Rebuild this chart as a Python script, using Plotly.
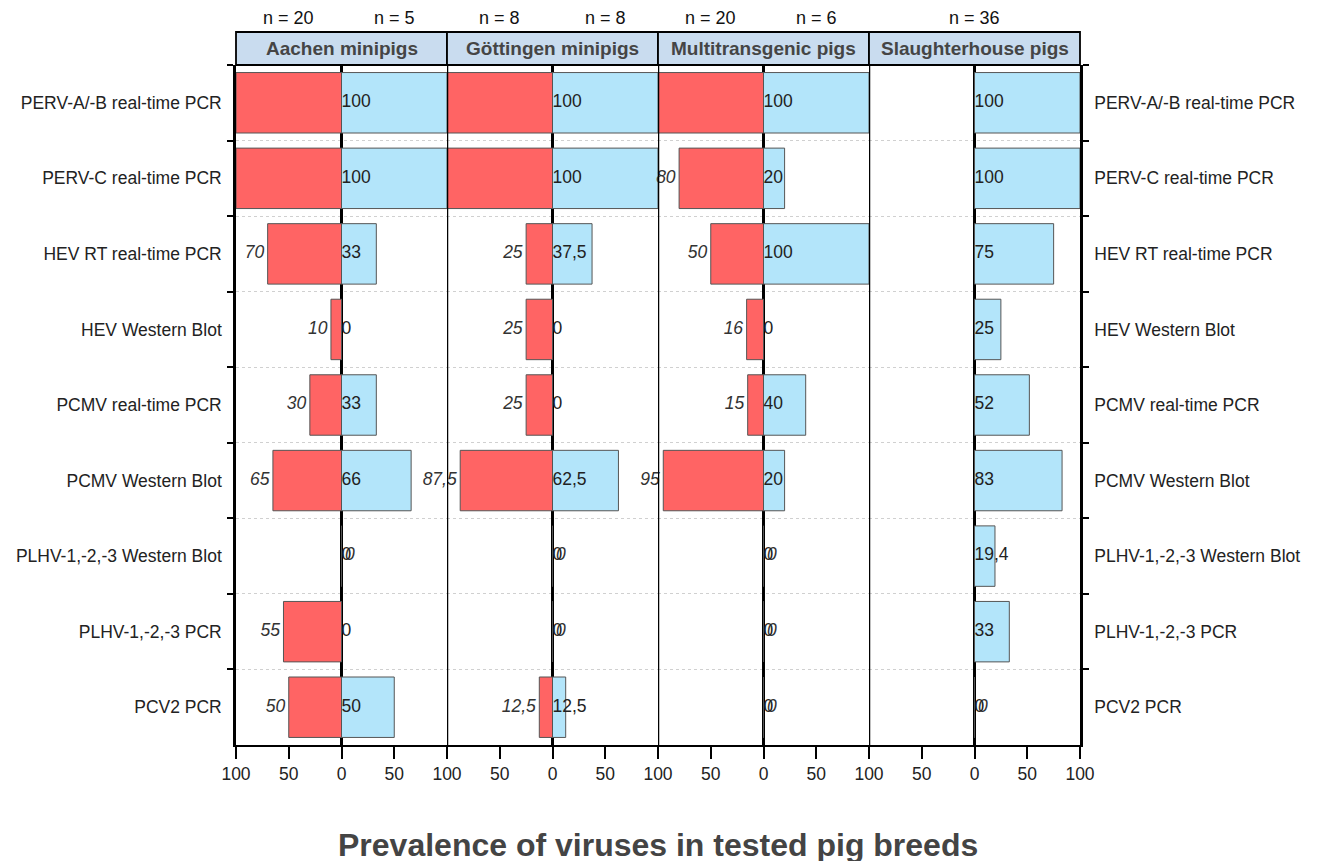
import plotly.graph_objects as go

tests = ["PERV-A/-B real-time PCR", "PERV-C real-time PCR", "HEV RT real-time PCR",
         "HEV Western Blot", "PCMV real-time PCR", "PCMV Western Blot",
         "PLHV-1,-2,-3 Western Blot", "PLHV-1,-2,-3 PCR", "PCV2 PCR"]

breeds = ["Aachen minipigs", "Göttingen minipigs", "Multitransgenic pigs", "Slaughterhouse pigs"]

aachen_left = [100, 100, 70, 10, 30, 65, 0, 55, 50]
aachen_right = [100, 100, 33, 0, 33, 66, 0, 0, 50]
goettingen_left = [100, 100, 25, 25, 25, 87.5, 0, 0, 12.5]
goettingen_right = [100, 100, 37.5, 0, 0, 62.5, 0, 0, 12.5]
multi_left = [100, 80, 50, 16, 15, 95, 0, 0, 0]
multi_right = [100, 20, 100, 0, 40, 20, 0, 0, 0]
slaughter_left = [None, None, None, None, None, None, None, None, 0]
slaughter_right = [100, 100, 75, 25, 52, 83, 19.4, 33, 0]

n_left = ["n = 20", "n = 8", "n = 20", None]
n_right = ["n = 5", "n = 8", "n = 6", None]
n_center = [None, None, None, "n = 36"]

left_data = [aachen_left, goettingen_left, multi_left, slaughter_left]
right_data = [aachen_right, goettingen_right, multi_right, slaughter_right]

tick_vals = [-100, -50, 0, 50, 100]
tick_text = ["100", "50", "0", "50", "100"]

RED = "#FF6464"
BLUE = "#B3E5FA"
EDGE = "#555555"
TXT = "#222222"
FS = 17.5
FONT = "Liberation Sans, Arial"


def fmt(v):
    return f"{v:g}".replace(".", ",")


fig = go.Figure()

for i in range(4):
    xa = "x" if i == 0 else f"x{i+1}"
    ya = "y" if i < 3 else "y2"
    left = left_data[i]
    right = right_data[i]
    lx = [(-v if v is not None else None) for v in left]
    fig.add_trace(go.Bar(
        y=tests, x=lx, orientation="h", xaxis=xa, yaxis=ya,
        marker=dict(color=RED, line=dict(color=EDGE, width=1)),
        width=0.8, hoverinfo="skip", showlegend=False))
    fig.add_trace(go.Bar(
        y=tests, x=right, orientation="h", xaxis=xa, yaxis=ya,
        marker=dict(color=BLUE, line=dict(color=EDGE, width=1)),
        width=0.8, hoverinfo="skip", showlegend=False))
    # left labels (italic)
    ltxt, lpos = [], []
    for v in left:
        if v is None or v >= 100:
            ltxt.append("")
            lpos.append("middle left")
        elif v == 0:
            ltxt.append("\u2009<i>0</i>")
            lpos.append("middle right")
        else:
            ltxt.append(f"<i>{fmt(v)}</i>\u2009")
            lpos.append("middle left")
    fig.add_trace(go.Scatter(
        y=tests, x=[(-v if v is not None else 0) for v in left], mode="text",
        text=ltxt, textposition=lpos, xaxis=xa, yaxis=ya,
        textfont=dict(size=FS, color="#333333", family=FONT),
        cliponaxis=False, hoverinfo="skip", showlegend=False))
    # right labels
    fig.add_trace(go.Scatter(
        y=tests, x=[0] * len(right), mode="text",
        text=[fmt(v) for v in right], textposition="middle right",
        xaxis=xa, yaxis=ya,
        textfont=dict(size=FS, color=TXT, family=FONT),
        cliponaxis=False, hoverinfo="skip", showlegend=False))

layout = dict(
    width=1320, height=861,
    margin=dict(l=228, r=248, t=57, b=124, autoexpand=False),
    paper_bgcolor="white", plot_bgcolor="white",
    barmode="overlay",
    font=dict(family=FONT, color=TXT),
)

for i in range(4):
    key = "xaxis" if i == 0 else f"xaxis{i+1}"
    tv = tick_vals if i == 0 else tick_vals[1:]
    tt = tick_text if i == 0 else tick_text[1:]
    layout[key] = dict(
        domain=[i * 0.25, (i + 1) * 0.25], range=[-100, 100],
        anchor="y" if i < 3 else "y2",
        tickvals=tv, ticktext=tt, ticks="outside", ticklen=12, tickwidth=1.5,
        tickcolor="black", tickfont=dict(size=FS, color=TXT),
        showline=True, linecolor="black", linewidth=2,
        zeroline=True, zerolinecolor="black", zerolinewidth=2.5,
        showgrid=False, fixedrange=True)

common_y = dict(
    type="category", categoryorder="array", categoryarray=tests,
    autorange="reversed", tickson="boundaries", ticks="outside", ticklen=6,
    tickwidth=1.5, tickcolor="black", ticklabelstandoff=8,
    showgrid=True, gridcolor="#d0d0d0", griddash="dot", gridwidth=1,
    showline=True, linecolor="black", linewidth=2.5,
    tickfont=dict(size=FS, color=TXT), domain=[0, 1], fixedrange=True)

layout["yaxis"] = dict(common_y, anchor="x", side="left")
layout["yaxis2"] = dict(common_y, anchor="x4", side="right")

shapes = []
annotations = []
H = 680.0
for i in range(4):
    xd = "x domain" if i == 0 else f"x{i+1} domain"
    xr = "x" if i == 0 else f"x{i+1}"
    shapes.append(dict(type="rect", xref=xd, x0=0, x1=1, yref="paper",
                       y0=1, y1=1 + 33 / H, fillcolor="#C9DCEF",
                       line=dict(color="black", width=1.8), layer="above"))
    annotations.append(dict(xref=xd, x=0.5, yref="paper", y=1 + 16.5 / H,
                            xanchor="center", yanchor="middle",
                            text=f"<b>{breeds[i]}</b>", showarrow=False,
                            font=dict(size=19, color="#454545")))
    if i > 0:
        shapes.append(dict(type="line", xref=xr, x0=-100, x1=-100, yref="paper",
                           y0=0, y1=1, line=dict(color="black", width=2.5), layer="above"))
    for txt, xv in ((n_left[i], -50), (n_right[i], 50), (n_center[i], 0)):
        if txt:
            annotations.append(dict(xref=xr, x=xv, yref="paper", y=1 + 47 / H,
                                    xanchor="center", yanchor="middle",
                                    text=txt, showarrow=False,
                                    font=dict(size=18, color="#111111")))

annotations.append(dict(xref="paper", x=0.5, yref="paper", y=(745 - 845) / H,
                        xanchor="center", yanchor="middle",
                        text="<b>Prevalence of viruses in tested pig breeds</b>",
                        showarrow=False, font=dict(size=32, color="#444444")))

layout["shapes"] = shapes
layout["annotations"] = annotations
fig.update_layout(**layout)

fig.write_html("out.html")
